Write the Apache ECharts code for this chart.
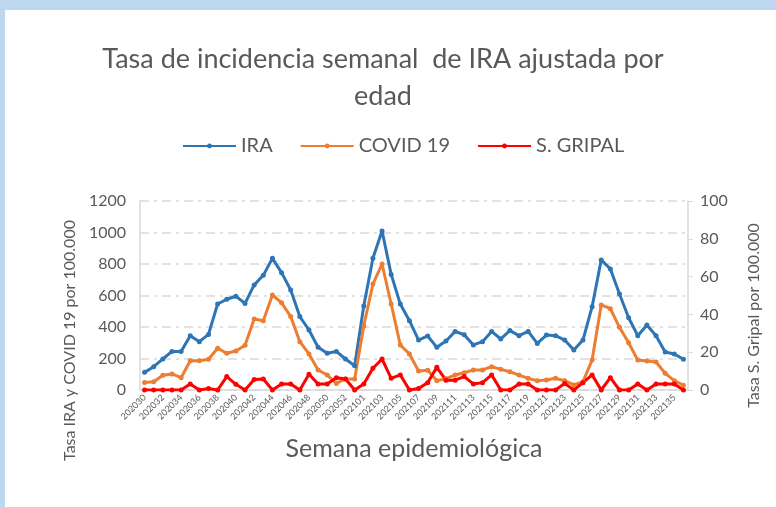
<!DOCTYPE html>
<html>
<head>
<meta charset="utf-8">
<script src="https://cdn.jsdelivr.net/npm/echarts@6/dist/echarts.min.js"></script>
<style>
html, body { margin: 0; padding: 0; background: #fff; }
#frame { position: absolute; left: 0; top: 0; width: 776px; height: 507px; background: #BDD7EE; }
#chart { position: absolute; left: 5px; top: 10px; width: 771px; height: 497px; background: #fff; }
</style>
</head>
<body>
<div id="frame"></div>
<div id="chart"></div>
<script>
var semanas = ['202030','202031','202032','202033','202034','202035','202036','202037','202038','202039',
	'202040','202041','202042','202043','202044','202045','202046','202047','202048','202049',
	'202050','202051','202052','202053','202101','202102','202103','202104','202105','202106',
	'202107','202108','202109','202110','202111','202112','202113','202114','202115','202116',
	'202117','202118','202119','202120','202121','202122','202123','202124','202125','202126',
	'202127','202128','202129','202130','202131','202132','202133','202134','202135','202136'];

var ira = [112,148,197,245,245,345,307,353,546,576,
	595,550,667,728,836,745,635,466,381,271,
	233,245,197,154,533,836,1010,734,546,440,
	317,343,271,311,372,351,286,307,372,324,
	377,345,372,296,349,345,317,254,317,529,
	826,768,609,459,345,413,345,241,229,195];

var covid = [47,53,93,102,78,186,186,195,265,233,
	248,284,451,440,603,554,466,307,229,127,
	95,42,70,70,406,673,800,546,286,229,
	121,125,59,72,95,110,127,127,148,131,
	116,95,74,59,63,74,59,32,53,190,
	540,516,398,300,190,184,178,106,59,30];

var gripal = [0,0,0,0,0,3.2,0,0.8,0,7.1,
	3,0,5.6,5.8,0,3.2,3.2,0,8.3,3.2,
	3.2,6.5,5.8,0,3.2,11.5,16.4,6.2,8,0,
	0.8,3.9,12,5.2,5.2,7.1,3.2,3.9,8,0,
	0,3.2,3.2,0,0,0,3.5,0,3.9,8,
	0,6.5,0,0,3.2,0,3.2,3.2,3.2,0];

var textColor = '#595959';
var gridColor = '#D9D9D9';

var dom = document.getElementById('chart');
var myChart = echarts.init(dom);
var option = {
	animation: false,
	textStyle: { fontFamily: 'Lato' },
	title: {
		text: 'Tasa de incidencia semanal  de IRA ajustada por\nedad',
		left: 373,
		top: 26,
		textAlign: 'center',
		textStyle: { color: textColor, fontSize: 27, fontWeight: 'normal', lineHeight: 37, fontFamily: 'Lato' }
	},
	legend: {
		top: 121,
		left: 172,
		itemWidth: 53,
		itemHeight: 6,
		itemGap: 27,
		textStyle: { color: textColor, fontSize: 20, fontFamily: 'Lato' },
		data: ['IRA', 'COVID 19', 'S. GRIPAL']
	},
	grid: {
		left: 135,
		right: 88,
		top: 191,
		bottom: 117,
		containLabel: false
	},
	xAxis: {
		type: 'category',
		data: semanas,
		boundaryGap: true,
		name: 'Semana epidemiológica',
		nameLocation: 'middle',
		nameGap: 46,
		nameTextStyle: { color: textColor, fontSize: 25, fontFamily: 'Lato' },
		axisLine: { lineStyle: { color: gridColor, width: 1.5 } },
		axisTick: { show: false },
		axisLabel: { interval: 1, rotate: 45, color: textColor, fontSize: 9, margin: 6 }
	},
	yAxis: [
		{
			type: 'value',
			min: 0,
			max: 1200,
			interval: 200,
			name: 'Tasa IRA y COVID 19 por 100.000',
			nameLocation: 'middle',
			nameGap: 62,
			nameTextStyle: { color: textColor, fontSize: 16, fontFamily: 'Lato', padding: [0, 90, 0, 0] },
			axisLine: { show: true, lineStyle: { color: gridColor, width: 1.5 } },
			axisTick: { show: false },
			axisLabel: { color: textColor, fontSize: 16, margin: 14, formatter: function (v) { return String(v); } },
			splitLine: { lineStyle: { color: gridColor, width: 1.5, type: [9, 5, 3, 5] } }
		},
		{
			type: 'value',
			min: 0,
			max: 100,
			interval: 20,
			name: 'Tasa S. Gripal por 100.000',
			nameLocation: 'middle',
			nameGap: 58,
			nameRotate: 90,
			nameTextStyle: { color: textColor, fontSize: 16, fontFamily: 'Lato', padding: [0, 40, 0, 0] },
			axisLine: { show: true, lineStyle: { color: gridColor, width: 1.5 } },
			axisTick: { show: true, length: 5, lineStyle: { color: gridColor } },
			axisLabel: { color: textColor, fontSize: 16, margin: 12 },
			splitLine: { show: false }
		}
	],
	series: [
		{
			name: 'IRA',
			type: 'line',
			yAxisIndex: 0,
			data: ira,
			symbol: 'circle',
			symbolSize: 5,
			itemStyle: { color: '#2E75B6' },
			lineStyle: { color: '#2E75B6', width: 3 }
		},
		{
			name: 'COVID 19',
			type: 'line',
			yAxisIndex: 0,
			data: covid,
			symbol: 'circle',
			symbolSize: 5,
			itemStyle: { color: '#ED7D31' },
			lineStyle: { color: '#ED7D31', width: 3 }
		},
		{
			name: 'S. GRIPAL',
			type: 'line',
			yAxisIndex: 1,
			data: gripal,
			symbol: 'circle',
			symbolSize: 5,
			itemStyle: { color: '#FF0000' },
			lineStyle: { color: '#FF0000', width: 3 }
		}
	]
};
if (option && typeof option === "object") {
	myChart.setOption(option, true);
}
</script>
</body>
</html>
